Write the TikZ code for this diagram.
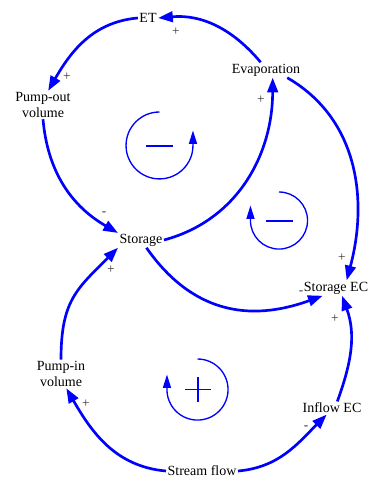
\documentclass[tikz,border=0pt]{standalone}
\usepackage{fontspec}
\setmainfont{Liberation Serif}
\usetikzlibrary{arrows.meta}
\definecolor{cldblue}{HTML}{0000FF}
\definecolor{cldgray}{HTML}{333333}

\begin{document}
\begin{tikzpicture}[
  x=0.75pt, y=0.75pt,
  font=\fontsize{10.5}{12}\selectfont,
  every node/.style={align=center},
  var/.style={inner sep=1pt, text=black},
  sign/.style={font=\fontsize{10}{10}\selectfont, text=cldgray, inner sep=0pt},
  link/.style={-{Triangle[length=11pt,width=8pt]}, draw=cldblue, line width=2pt},
  looparc/.style={-{Triangle[length=10pt,width=6pt]}, draw=cldblue, line width=1pt},
  loopsign/.style={draw=cldblue, line width=1.3pt},
]
\useasboundingbox (0,0) rectangle (369,478);

% ---------- variables ----------
\node[var] (et)   at (148,460) {ET};
\node[var] (evap) at (266,408) {Evaporation};
\node[var] (pout) at (43,373)  {Pump-out\\volume};
\node[var] (stor) at (141,238) {Storage};
\node[var] (sec)  at (336,190) {Storage EC};
\node[var] (pin)  at (61,104)  {Pump-in\\volume};
\node[var] (iec)  at (332,70)  {Inflow EC};
\node[var] (sf)   at (202,7)   {Stream flow};

% ---------- links ----------
\draw[link] ([xshift=-4pt]evap.north) to[out=130, in=5] (et.east);
\draw[link] (et.west) to[out=185, in=60] (pout.70);
\draw[link] (pout.south) to[out=-85, in=150] (stor.163);
\draw[link] (stor.east) to[out=15, in=-90] ([xshift=5pt]evap.south);
\draw[link] (evap.-20) to[out=-30, in=75] ([xshift=8pt]sec.north);
\draw[link] (stor.-55) to[out=-55, in=200, looseness=1.1] ([xshift=-10pt]sec.south);
\draw[link] ([xshift=4pt]iec.north) to[out=70, in=-70] ([xshift=4.5pt]sec.south);
\draw[link] (pin.north) to[out=90, in=225, looseness=1.2] (stor.south west);
\draw[link] (sf.west) to[out=175, in=-60] ([xshift=4pt]pin.south);
\draw[link] (sf.east) to[out=5, in=225] ([xshift=-4pt]iec.south);

% ---------- polarities ----------
\node[sign] at (176,446) {+};
\node[sign] at (67,401)  {+};
\node[sign] at (261,378) {+};
\node[sign] at (104,264) {-};
\node[sign] at (111,208) {+};
\node[sign] at (301,185) {-};
\node[sign] at (342,220) {+};
\node[sign] at (335,159) {+};
\node[sign] at (86,74)   {+};
\node[sign] at (306,50)  {-};

% ---------- loop markers ----------
\draw[looparc] (159.5,366) arc[start angle=90, end angle=360, radius=25.1pt] -- ++(0,15);
\draw[loopsign] (146,332) -- (173,332);

\draw[looparc] (279,286) arc[start angle=90, end angle=-180, radius=21.4pt] -- ++(0,15);
\draw[loopsign] (266,257) -- (293,257);

\draw[looparc] (197.5,119) arc[start angle=90, end angle=-180, radius=22.9pt] -- ++(0,15);
\draw[loopsign] (185,88.5) -- (211,88.5);
\draw[loopsign] (198,76) -- (198,101);

\end{tikzpicture}
\end{document}
